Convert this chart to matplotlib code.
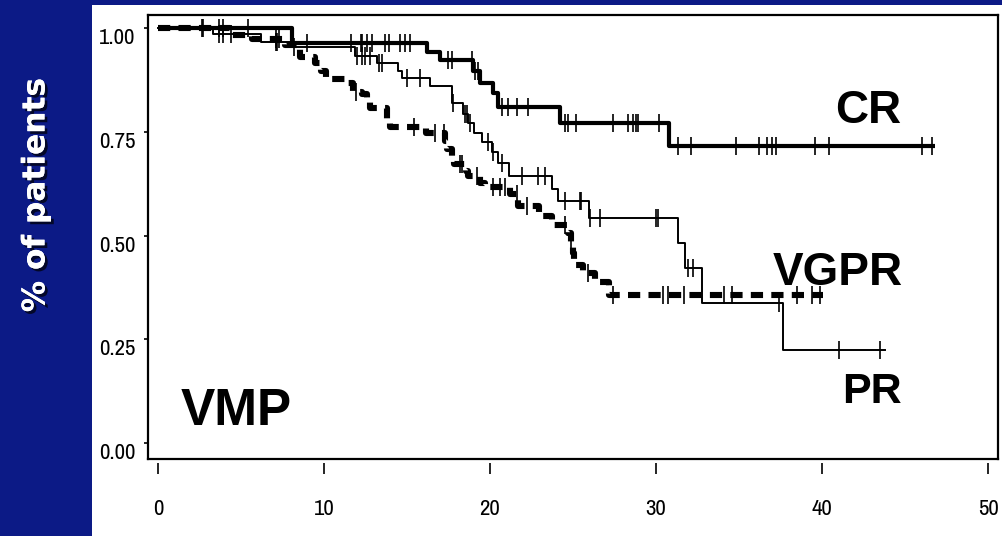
import numpy as np
import matplotlib
matplotlib.use("Agg")
import matplotlib.pyplot as plt
from matplotlib.patches import Rectangle
import matplotlib.patheffects as pe
from matplotlib import font_manager as fm

# ---------------- data ----------------
cr_t = [0, 8.1, 16.2, 17.0, 19.0, 19.4, 20.2, 20.5, 24.2, 30.8]
cr_s = [1.0, 0.964, 0.942, 0.923, 0.897, 0.868, 0.844, 0.81, 0.772, 0.716]
cr_end = 46.8
cr_cens = [2.7, 3.7, 3.9, 5.4, 9.0, 11.6, 12.2, 12.3, 12.6, 12.9, 13.7, 13.9, 14.6,
           14.9, 15.2, 17.5, 17.7, 18.9, 19.1, 19.3, 20.7, 21.1, 21.6, 22.3, 24.5,
           24.7, 25.2, 27.4, 28.3, 28.6, 28.8, 28.9, 30.2, 31.3, 32.1, 34.8, 36.2,
           36.7, 37.0, 37.2, 39.6, 40.4, 46.0, 46.6]

pr_t = [0, 3.31, 6.2, 8.13, 11.87, 13.19, 14.46, 14.7, 16.39, 17.71, 18.37, 18.67,
        19.04, 19.52, 20.12, 20.48, 21.14, 23.73, 24.10, 25.96, 31.33, 31.75, 32.77, 37.65]
pr_s = [1.0, 0.986, 0.966, 0.954, 0.933, 0.916, 0.897, 0.880, 0.861, 0.820, 0.793, 0.772,
        0.748, 0.726, 0.700, 0.675, 0.644, 0.613, 0.584, 0.543, 0.481, 0.423, 0.337, 0.224]
pr_end = 43.8
pr_cens = [3.7, 3.9, 4.4, 7.1, 7.2, 8.2, 12.0, 12.3, 12.5, 12.8, 13.3, 13.5, 15.0, 15.8,
           17.8, 18.5, 18.6, 18.8, 19.9, 20.2, 20.7, 21.9, 22.9, 23.3, 24.5, 25.4, 25.5,
           26.0, 26.6, 30.0, 30.1, 31.9, 32.2, 37.4, 41.0, 43.5]

vg_t = [0, 4.34, 5.66, 7.65, 8.55, 9.46, 9.82, 10.12, 11.45, 11.75, 12.29, 12.59, 12.77,
        13.80, 13.98, 16.14, 17.29, 17.41, 17.71, 17.83, 18.55, 18.67, 19.40, 19.70,
        21.20, 21.69, 22.95, 23.73, 24.70, 24.88, 25.00, 25.06, 25.18, 25.60, 26.33, 27.17]
vg_s = [1.0, 0.983, 0.974, 0.959, 0.930, 0.916, 0.897, 0.877, 0.868, 0.846, 0.841, 0.829,
        0.808, 0.781, 0.762, 0.748, 0.728, 0.709, 0.692, 0.673, 0.656, 0.644, 0.627, 0.618,
        0.599, 0.572, 0.546, 0.526, 0.507, 0.481, 0.459, 0.440, 0.428, 0.411, 0.387, 0.358]
vg_end = 40.06
vg_cens = [2.65, 7.1, 7.3, 11.9, 15.4, 16.7, 17.2, 18.2, 18.3, 19.2, 20.2, 20.6, 20.9,
           21.6, 22.2, 24.5, 24.9, 25.9, 27.4, 30.4, 30.7, 31.7, 34.1, 34.6, 38.5, 39.4, 39.9]

x_ticks = [0, 10, 20, 30, 40, 50]
y_ticks = [0.0, 0.25, 0.50, 0.75, 1.00]
y_ticklabels = ["0.00", "0.25", "0.50", "0.75", "1.00"]
curve_labels = ["CR", "VGPR", "PR"]
panel_label = "VMP"
y_label = "% of patients"

# ---------------- figure ----------------
W, H = 1002, 536
fig = plt.figure(figsize=(W / 100, H / 100), dpi=100)
fig.patch.set_facecolor("#0c1a86")
fig.add_artist(Rectangle((92 / W, 0), (W - 92) / W, (H - 5) / H,
                         transform=fig.transFigure, facecolor="white",
                         edgecolor="none", zorder=0))

ax = fig.add_axes([148 / W, 1 - 459 / H, (998 - 148) / W, (459 - 15) / H])
ax.set_facecolor("white")
ax.set_xlim(-0.6, 50.6)
ax.set_ylim(-0.038, 1.031)
for sp in ax.spines.values():
    sp.set_linewidth(1.6)
    sp.set_color("black")

# pick a condensed face if one is installed
narrow = None
for f in fm.fontManager.ttflist:
    if "Narrow" in f.name or "Condensed" in f.name:
        narrow = f.name
        break
tick_family = ([narrow] if narrow else []) + ["Liberation Sans", "DejaVu Sans"]
tick_font = dict(family=tick_family, size=16.5)


def draw_curve(t, s, end, cens, **kw):
    tt = list(t) + [end]
    ss = list(s) + [s[-1]]
    line, = ax.step(tt, ss, where="post", color="black", **kw)
    ta = np.asarray(t)
    sa = np.asarray(s)
    idx = np.searchsorted(ta, np.asarray(cens), side="right") - 1
    ax.plot(cens, sa[idx], linestyle="none", marker="|", markersize=12.5,
            markeredgewidth=1.2, color="black", zorder=4)
    return line


draw_curve(cr_t, cr_s, cr_end, cr_cens, linewidth=3.0, solid_capstyle="butt", zorder=3)
draw_curve(pr_t, pr_s, pr_end, pr_cens, linewidth=1.4, zorder=3)
vl = draw_curve(vg_t, vg_s, vg_end, vg_cens, linewidth=4.4, zorder=3,
                dash_capstyle="butt")
vl.set_dashes((2.0, 1.35))

# y ticks
ax.set_yticks(y_ticks)
ax.set_yticklabels(y_ticklabels, **tick_font)
ax.tick_params(axis="y", direction="out", length=3, width=1.2, pad=6)
for lab in ax.get_yticklabels():
    lab.set_verticalalignment("top")

# x ticks detached below the axis
ax.set_xticks([])
sec = ax.secondary_xaxis(-0.008)
sec.set_xticks(x_ticks)
sec.set_xticklabels([str(v) for v in x_ticks], **tick_font)
sec.spines["bottom"].set_visible(False)
sec.tick_params(axis="x", direction="out", length=8, width=1.2, pad=18)

# annotations
bold = dict(family=["Liberation Sans", "DejaVu Sans"], weight="bold", color="black")
ax.text(40.8, 0.772, curve_labels[0], fontsize=33, ha="left", va="baseline", **bold)
ax.text(37.05, 0.380, curve_labels[1], fontsize=33, ha="left", va="baseline", **bold)
ax.text(41.2, 0.096, curve_labels[2], fontsize=31, ha="left", va="baseline", **bold)
ax.text(1.39, 0.043, panel_label, fontsize=37, ha="left", va="baseline", **bold)

fig.text(36 / W, 1 - 195 / H, y_label, rotation=90, ha="center", va="center",
         fontsize=22.5, fontweight="bold", color="white",
         family=["DejaVu Sans"],
         path_effects=[pe.withSimplePatchShadow(offset=(2, -2), shadow_rgbFace="black",
                                                alpha=0.7), pe.Normal()])

fig.savefig("out.png", dpi=100, facecolor=fig.get_facecolor())
